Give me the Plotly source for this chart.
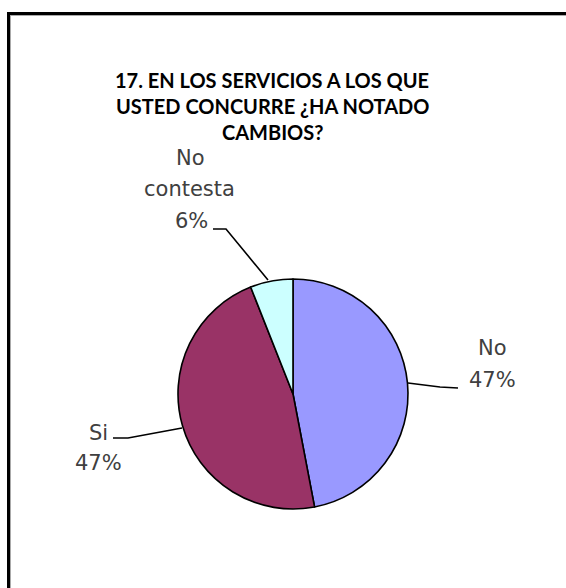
import plotly.graph_objects as go

labels = ["No", "Si", "No contesta"]
values = [47, 47, 6]
colors = ["#9999FF", "#993366", "#CCFFFF"]
title_lines = ["17. EN LOS SERVICIOS A LOS QUE", "USTED CONCURRE ¿HA NOTADO", "CAMBIOS?"]

W, H = 566, 588
total = sum(values)
pct = [f"{round(v * 100 / total)}%" for v in values]

def px(x):
    return x / W

def py(y):
    return 1 - y / H

fig = go.Figure(go.Pie(
    labels=labels, values=values, sort=False, direction="clockwise", rotation=0,
    marker=dict(colors=colors, line=dict(color="#000000", width=1.6)),
    textinfo="none", hoverinfo="label+percent", showlegend=False,
    domain=dict(x=[px(293 - 115), px(293 + 115)], y=[py(394 + 115), py(394 - 115)]),
))

anns = []
# title
for i, t in enumerate(title_lines):
    anns.append(dict(x=px(272), y=py(80 + 26 * i), text=f"<b>{t}</b>", showarrow=False,
                     xref="paper", yref="paper", xanchor="center", yanchor="middle",
                     font=dict(family="Lato, sans-serif", size=20, color="#000000")))

lab_font = dict(family="DejaVu Sans", size=21, color="#404040")
label_pos = [
    [(labels[0], 492, 348), (pct[0], 492, 380)],
    [(labels[1], 98, 433), (pct[1], 98, 463)],
    [("No", 190, 158), ("contesta", 189, 189), (pct[2], 191, 221)],
]
for group in label_pos:
    for t, x, y in group:
        anns.append(dict(x=px(x), y=py(y), text=t, showarrow=False, xref="paper", yref="paper",
                         xanchor="center", yanchor="middle", font=lab_font))

shapes = []
leaders = [
    [(408, 383), (440, 387), (458, 388)],
    [(113, 438), (128, 438), (182, 428)],
    [(213, 229), (226, 229), (268, 280)],
]
for pts in leaders:
    path = "M " + " L ".join(f"{px(x)},{py(y)}" for x, y in pts)
    shapes.append(dict(type="path", path=path, xref="paper", yref="paper",
                       line=dict(color="#000000", width=1.6)))

# frame (top and left edges visible)
shapes.append(dict(type="line", xref="paper", yref="paper", x0=px(7), x1=1, y0=py(13.5), y1=py(13.5),
                   line=dict(color="#000000", width=3)))
shapes.append(dict(type="line", xref="paper", yref="paper", x0=px(8.5), x1=px(8.5), y0=py(12), y1=0,
                   line=dict(color="#000000", width=3)))
shapes.append(dict(type="line", xref="paper", yref="paper", x0=px(10), x1=1, y0=py(15.5), y1=py(15.5),
                   line=dict(color="#AAAAAA", width=1)))
shapes.append(dict(type="line", xref="paper", yref="paper", x0=px(10.5), x1=px(10.5), y0=py(15), y1=0,
                   line=dict(color="#AAAAAA", width=1)))

fig.update_layout(width=W, height=H, margin=dict(l=0, r=0, t=0, b=0),
                  paper_bgcolor="#FFFFFF", plot_bgcolor="#FFFFFF",
                  annotations=anns, shapes=shapes)
fig.write_html("out.html", config={"displayModeBar": False},
               post_script="document.body.style.margin='0';document.body.style.overflow='hidden';")
